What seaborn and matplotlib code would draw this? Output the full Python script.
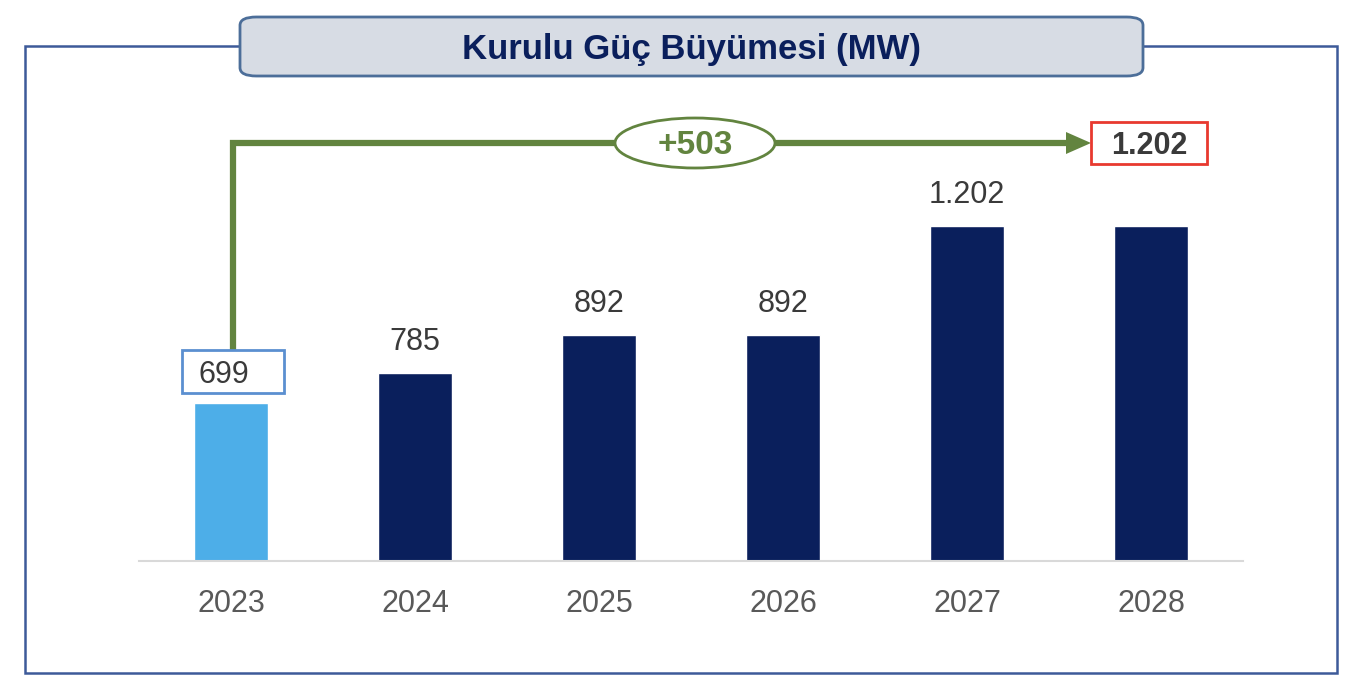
import matplotlib
matplotlib.use("Agg")
import matplotlib.pyplot as plt
import seaborn as sns
from matplotlib.patches import Rectangle, FancyBboxPatch, Ellipse, Polygon

# Veriler
years = ["2023", "2024", "2025", "2026", "2027", "2028"]
values = [699, 785, 892, 892, 1202, 1202]
bar_colors = ["#4DAEE8", "#0A1F5C", "#0A1F5C", "#0A1F5C", "#0A1F5C", "#0A1F5C"]
title = "Kurulu Güç Büyümesi (MW)"
growth_label = "+503"

sns.set_theme(style="white")
plt.rcParams["font.family"] = ["Liberation Sans", "DejaVu Sans"]

W, H = 1360, 694
fig = plt.figure(figsize=(W / 100, H / 100), dpi=100)


def px(x, y):
    # piksel -> figür oranı
    return x / W, 1 - y / H


# eksen: 139..1243 px yatay, taban 561 px
ax = fig.add_axes([139 / W, (H - 561) / H, 1104 / W, 461 / H])
sns.barplot(x=years, y=values, hue=years, palette=bar_colors, legend=False,
            width=0.4, ax=ax, saturation=1)
ax.set_xlim(-0.5, 5.5)
ax.set_ylim(250, 250 + 461 / 0.352)
ax.set_yticks([])
ax.set_xlabel("")
ax.set_ylabel("")
for s in ["top", "left", "right"]:
    ax.spines[s].set_visible(False)
ax.spines["bottom"].set_color("#D9D9D9")
ax.spines["bottom"].set_linewidth(1.5)
ax.tick_params(axis="x", length=0, pad=20, labelsize=22, labelcolor="#595959")

# değer etiketleri (2028 için kırmızı kutu kullanılıyor)
def fmt(v):
    return f"{v:,}".replace(",", ".")

for i, v in enumerate(values[:-1]):
    if i == 0:
        ax.annotate(fmt(v), (i, v), xytext=(-5, 20), textcoords="offset points",
                    ha="center", va="center", fontsize=22, color="#3A3A3A")
    else:
        ax.annotate(fmt(v), (i, v), xytext=(0, 22), textcoords="offset points",
                    ha="center", va="center", fontsize=22, color="#3A3A3A")

# dış çerçeve
x0, y0 = px(25, 673)
fig.patches.append(Rectangle((x0, y0), 1312 / W, 627 / H, transform=fig.transFigure,
                             fill=False, edgecolor="#3D5A99", linewidth=1.8, zorder=0))

# başlık kutusu
tx, ty = px(240, 76)
fig.patches.append(FancyBboxPatch((tx, ty), 903 / W, 59 / H, transform=fig.transFigure,
                                  boxstyle="round,pad=0,rounding_size=0.012",
                                  facecolor="#D7DCE4", edgecolor="#4C6E99",
                                  linewidth=2, zorder=2))
fig.text(*px(691, 50), title, ha="center", va="center", fontsize=25,
         fontweight="bold", color="#0A1F5C", zorder=3)

green = "#62843F"
# 2023 kutusu
bx, by = px(182, 393)
fig.patches.append(Rectangle((bx, by), 102 / W, 43 / H, transform=fig.transFigure,
                             fill=False, edgecolor="#5B8FD0", linewidth=2, zorder=3))

# ok çizgisi
fig.lines.append(plt.Line2D([px(233, 0)[0], px(233, 0)[0], px(1068, 0)[0]],
                            [px(0, 350)[1], px(0, 143)[1], px(0, 143)[1]],
                            transform=fig.transFigure, color=green, linewidth=4.5,
                            solid_joinstyle="miter", solid_capstyle="butt", zorder=2))
fig.patches.append(Polygon([px(1066, 132), px(1091, 143), px(1066, 154)],
                           closed=True, transform=fig.transFigure,
                           facecolor=green, edgecolor="none", zorder=2))

# elips
ex, ey = px(695, 143)
fig.patches.append(Ellipse((ex, ey), 160 / W, 50 / H, transform=fig.transFigure,
                           facecolor="white", edgecolor=green, linewidth=2, zorder=3))
fig.text(*px(695, 146), growth_label, ha="center", va="center", fontsize=24,
         fontweight="bold", color=green, zorder=4)

# 2028 kırmızı kutu
rx, ry = px(1091, 164)
fig.patches.append(Rectangle((rx, ry), 116 / W, 42 / H, transform=fig.transFigure,
                             facecolor="white", edgecolor="#E8392F", linewidth=2, zorder=3))
fig.text(*px(1149, 146), fmt(values[-1]), ha="center", va="center", fontsize=22,
         fontweight="bold", color="#3A3A3A", zorder=4)

fig.savefig("out.png", dpi=100)
